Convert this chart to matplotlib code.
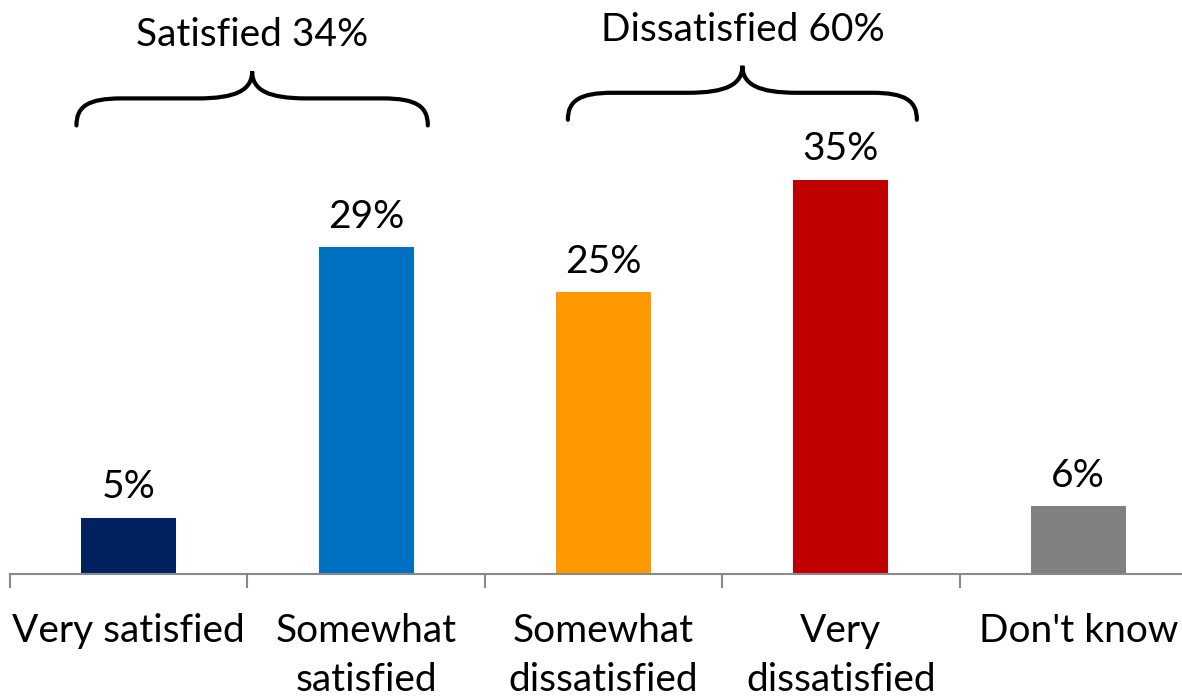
import numpy as np
import matplotlib.pyplot as plt
from matplotlib.path import Path
from matplotlib.patches import PathPatch

plt.rcParams['font.family'] = ['Lato', 'DejaVu Sans']

categories = ["Very satisfied", "Somewhat\nsatisfied", "Somewhat\ndissatisfied",
              "Very\ndissatisfied", "Don't know"]
values = [5, 29, 25, 35, 6]
colors = ["#002060", "#0070C0", "#FF9900", "#C00000", "#808080"]

# brace label, first bar, last bar
groups = [("Satisfied 34%", 0, 1), ("Dissatisfied 60%", 2, 3)]
# brace placement: left/right overhang, base height
brace_pos = [(0.22, 0.26, 39.8), (0.15, 0.32, 40.3)]

fig = plt.figure(figsize=(11.82, 6.99), dpi=100)
ax = fig.add_axes([10 / 1182, 125 / 699, 5 * 237.4 / 1182, 563.5 / 699])

x = np.arange(len(categories))
ax.bar(x, values, width=0.4, color=colors)
for xi, v in zip(x, values):
    ax.annotate(f"{v}%", (xi, v), xytext=(0, 9), textcoords="offset points",
                ha="center", va="bottom", fontsize=28)

ax.set_xlim(-0.5, len(categories) - 0.5)
ax.set_ylim(0, 50)
ax.set_yticks([])
for s in ["top", "right", "left"]:
    ax.spines[s].set_visible(False)
ax.spines["bottom"].set_color("#898989")
ax.spines["bottom"].set_linewidth(1.5)
ax.set_xticks(np.arange(len(categories) + 1) - 0.5, minor=True)
ax.set_xticks(x)
ax.set_xticklabels(categories, fontsize=28, linespacing=1.45)
ax.tick_params(axis="x", which="major", length=0, pad=28)
ax.tick_params(axis="x", which="minor", length=10, width=1.5, color="#898989")


def brace(ax, x0, x1, y0, h1, h2, r_end=0.19, r_mid=0.23):
    xm = (x0 + x1) / 2
    y1 = y0 + h1
    y2 = y0 + h2
    verts = [(x0, y0),
             (x0, y0 + h1 * 0.7), (x0 + r_end * 0.25, y1), (x0 + r_end, y1),
             (xm - r_mid, y1),
             (xm - r_mid * 0.3, y1), (xm, y1 + (y2 - y1) * 0.3), (xm, y2),
             (xm, y1 + (y2 - y1) * 0.3), (xm + r_mid * 0.3, y1), (xm + r_mid, y1),
             (x1 - r_end, y1),
             (x1 - r_end * 0.25, y1), (x1, y0 + h1 * 0.7), (x1, y0)]
    codes = [Path.MOVETO] + [Path.CURVE4] * 3 + [Path.LINETO] + [Path.CURVE4] * 6 \
        + [Path.LINETO] + [Path.CURVE4] * 3
    ax.add_patch(PathPatch(Path(verts, codes), fill=False, lw=3, ec="black",
                           clip_on=False, capstyle="round"))
    return xm, y2


for (label, i0, i1), (dl, dr, yb) in zip(groups, brace_pos):
    xm, ytop = brace(ax, i0 - dl, i1 + dr, yb, 2.4, 4.8)
    ax.text(xm, ytop + 1.6, label, ha="center", va="bottom", fontsize=28,
            clip_on=False)

fig.savefig("out.png", dpi=100)
